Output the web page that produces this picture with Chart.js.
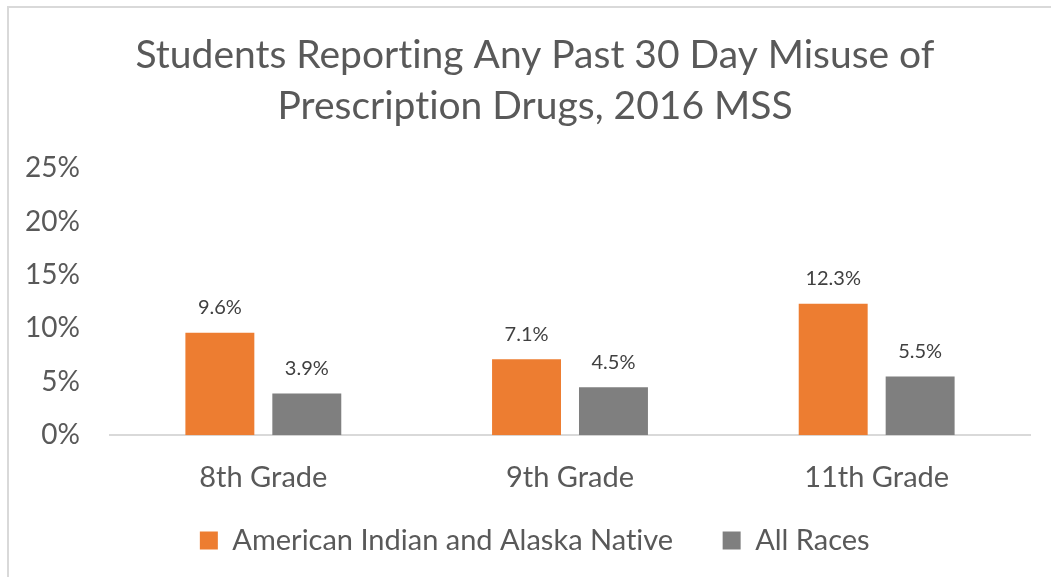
<!DOCTYPE html>
<html>
<head>
<meta charset="utf-8">
<script src="https://cdn.jsdelivr.net/npm/chart.js@4"></script>
<style>
  html, body { margin: 0; padding: 0; background: #fff; overflow: hidden; }
  #wrap { position: relative; width: 1051px; height: 577px; overflow: hidden; }
  #frame { position: absolute; left: 7px; top: 6px; right: -10px; bottom: -10px; border-left: 2px solid #d9d9d9; border-top: 2px solid #d9d9d9; }
  canvas { position: absolute; left: 0; top: 0; }
</style>
</head>
<body>
<div id="wrap">
  <div id="frame"></div>
  <canvas id="c" width="1070" height="577"></canvas>
</div>
<script>
const categories = ["8th Grade", "9th Grade", "11th Grade"];
const aianValues = [9.6, 7.1, 12.3];
const allRacesValues = [3.9, 4.5, 5.5];
const seriesNames = ["American Indian and Alaska Native", "All Races"];
const titleLines = ["Students Reporting Any Past 30 Day Misuse of", "Prescription Drugs, 2016 MSS"];

const FONT = "Lato, 'Open Sans', sans-serif";
const TXT = "#595959";

// turn off font ligatures (e.g. Lato's "ti") to look like the original
const noLigatures = {
  id: "noLigatures",
  beforeDraw(chart) {
    const ctx = chart.ctx;
    if ("textRendering" in ctx) ctx.textRendering = "optimizeSpeed";
  }
};

const dataLabels = {
  id: "dataLabels",
  afterDatasetsDraw(chart) {
    const ctx = chart.ctx;
    ctx.save();
    ctx.font = "20px " + FONT;
    ctx.fillStyle = "#404040";
    ctx.textAlign = "center";
    ctx.textBaseline = "middle";
    chart.data.datasets.forEach((ds, i) => {
      chart.getDatasetMeta(i).data.forEach((bar, j) => {
        ctx.fillText(ds.data[j].toFixed(1) + "%", bar.x, bar.y - 25);
      });
    });
    ctx.restore();
  }
};

new Chart(document.getElementById("c"), {
  type: "bar",
  data: {
    labels: categories,
    datasets: [
      { label: seriesNames[0], data: aianValues, backgroundColor: "#ED7D31" },
      { label: seriesNames[1], data: allRacesValues, backgroundColor: "#7F7F7F" }
    ]
  },
  options: {
    responsive: false,
    animation: false,
    devicePixelRatio: 1,
    layout: { padding: { left: 0, right: 0, top: 0, bottom: 12 } },
    datasets: { bar: { categoryPercentage: 0.567, barPercentage: 0.793 } },
    plugins: {
      title: {
        display: true,
        text: titleLines,
        color: TXT,
        font: { family: FONT, size: 39, weight: "normal", lineHeight: 1.31 },
        padding: { top: 30, bottom: 36 }
      },
      legend: {
        position: "bottom",
        labels: {
          color: TXT,
          font: { family: FONT, size: 29 },
          boxWidth: 18,
          boxHeight: 18,
          padding: 6,
          generateLabels: chart => Chart.defaults.plugins.legend.labels.generateLabels(chart).map((item, i, arr) => {
            if (i < arr.length - 1) item.text = item.text + "\u2003\u2003";
            return item;
          })
        }
      },
      tooltip: { enabled: false }
    },
    scales: {
      x: {
        grid: { display: false, drawTicks: false },
        border: { display: true, color: "#d9d9d9", width: 2 },
        ticks: { color: TXT, font: { family: FONT, size: 29 }, padding: 25 }
      },
      y: {
        min: 0, max: 25,
        afterFit: s => { s.width = 110; },
        grid: { display: false, drawTicks: false },
        border: { display: false },
        ticks: {
          stepSize: 5,
          color: TXT,
          font: { family: FONT, size: 28 },
          padding: 30,
          callback: v => v + "%"
        }
      },
      yRight: {
        type: "linear",
        position: "right",
        min: 0, max: 25,
        afterFit: s => { s.width = 40; },
        grid: { display: false, drawTicks: false },
        border: { display: false },
        ticks: { display: false }
      }
    }
  },
  plugins: [noLigatures, dataLabels]
});
</script>
</body>
</html>
